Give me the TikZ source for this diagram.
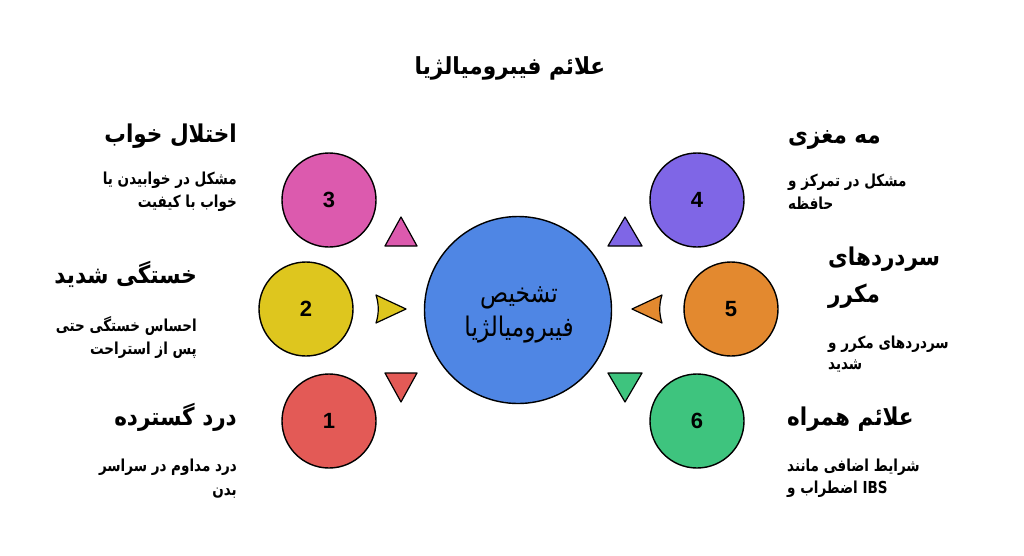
\documentclass[tikz,border=0pt]{standalone}
\usepackage{fontspec}
\TeXXeTstate=1
\newfontfamily\arh[Script=Arabic, FakeStretch=0.88]{DejaVu Sans}
\newfontfamily\art[Script=Arabic, FakeStretch=0.92]{DejaVu Sans}
\newfontfamily\ard[Script=Arabic, FakeStretch=0.82]{DejaVu Sans}
\newfontfamily\arc[Script=Arabic, FakeStretch=0.86]{DejaVu Sans}
\newfontfamily\numfont{Liberation Sans}
\newcommand\rtl[1]{\beginR #1\endR}
\definecolor{cblue}{HTML}{4F86E4}
\definecolor{cpink}{HTML}{DC5AAE}
\definecolor{cyellow}{HTML}{DEC61E}
\definecolor{cred}{HTML}{E35A56}
\definecolor{cpurple}{HTML}{7F66E6}
\definecolor{corange}{HTML}{E3892F}
\definecolor{cgreen}{HTML}{3EC47E}
\tikzset{
  disc/.style={circle, draw=black, line width=1.4pt, minimum size=94pt, inner sep=0pt,
    font=\numfont\bfseries\fontsize{22}{24}\selectfont},
  tri/.style={draw=black, line width=1.2pt, line join=round},
  head/.style={inner sep=0pt, font=\arh\bfseries\fontsize{24.5}{28}\selectfont},
  desc/.style={inner sep=0pt, font=\ard\bfseries\fontsize{16.5}{20}\selectfont},
  ctext/.style={inner sep=0pt, anchor=base, font=\arc\fontsize{27}{30}\selectfont},
}
\begin{document}
\begin{tikzpicture}[x=1pt,y=-1pt]
\useasboundingbox (0,0) rectangle (1024,555);
\fill[white] (0,0) rectangle (1024,555);
% title
\node[inner sep=0pt, anchor=base, font=\art\bfseries\fontsize{23.5}{26}\selectfont] (title) at (510,74) {\rtl{علائم فیبرومیالژیا}};
% center
\node[circle, draw=black, line width=1.4pt, fill=cblue, minimum size=187pt, inner sep=0pt] (c) at (518,310) {};
\node[ctext] (ct1) at (519,302) {\rtl{تشخیص}};
\node[ctext] (ct2) at (519,336) {\rtl{فیبرومیالژیا}};
% circles
\node[disc, fill=cpink] (n3) at (329,200) {3};
\node[disc, fill=cyellow] (n2) at (306,309) {2};
\node[disc, fill=cred] (n1) at (329,421) {1};
\node[disc, fill=cpurple] (n4) at (697,200) {4};
\node[disc, fill=corange] (n5) at (731,309) {5};
\node[disc, fill=cgreen] (n6) at (697,421) {6};
% triangles
\draw[tri, fill=cpink] (401,217) -- (417,246) -- (385,246) -- cycle;
\draw[tri, fill=cyellow] (406,309) -- (376,323) .. controls (379,314) and (379,304) .. (376,295) -- cycle;
\draw[tri, fill=cred] (385,373) -- (417,373) -- (401,402) -- cycle;
\draw[tri, fill=cpurple] (625,217) -- (642,246) -- (608,246) -- cycle;
\draw[tri, fill=corange] (632,309) -- (662,323) .. controls (659,314) and (659,304) .. (662,295) -- cycle;
\draw[tri, fill=cgreen] (608,373) -- (642,373) -- (625,402) -- cycle;
% left texts
\node[head, anchor=base east] (h3) at (237,142) {\rtl{اختلال خواب}};
\node[desc, anchor=base east] (d3a) at (237,184) {\rtl{مشکل در خوابیدن یا}};
\node[desc, anchor=base east] (d3b) at (237,207) {\rtl{خواب با کیفیت}};
\node[head, anchor=base east] (h2) at (197,283) {\rtl{خستگی شدید}};
\node[desc, anchor=base east] (d2a) at (197,331) {\rtl{احساس خستگی حتی}};
\node[desc, anchor=base east] (d2b) at (197,354) {\rtl{پس از استراحت}};
\node[head, anchor=base east] (h1) at (237,425) {\rtl{درد گسترده}};
\node[desc, anchor=base east] (d1a) at (237,471) {\rtl{درد مداوم در سراسر}};
\node[desc, anchor=base east] (d1b) at (237,495) {\rtl{بدن}};
% right texts
\node[head, anchor=base west] (h4) at (788,143) {\rtl{مه مغزی}};
\node[desc, anchor=base west] (d4a) at (788,186) {\rtl{مشکل در تمرکز و}};
\node[desc, anchor=base west] (d4b) at (788,209) {\rtl{حافظه}};
\node[head, anchor=base west] (h5a) at (828,265) {\rtl{سردردهای}};
\node[head, anchor=base west] (h5b) at (828,302) {\rtl{مکرر}};
\node[desc, anchor=base west] (d5a) at (828,348) {\rtl{سردردهای مکرر و}};
\node[desc, anchor=base west] (d5b) at (828,369) {\rtl{شدید}};
\node[head, anchor=base west] (h6) at (787,425) {\rtl{علائم همراه}};
\node[desc, anchor=base west] (d6a) at (787,471) {\rtl{شرایط اضافی مانند}};
\node[desc, anchor=base west] (d6b) at (787,493) {\rtl{\beginL IBS\endL{} اضطراب و}};
\end{tikzpicture}
\end{document}
